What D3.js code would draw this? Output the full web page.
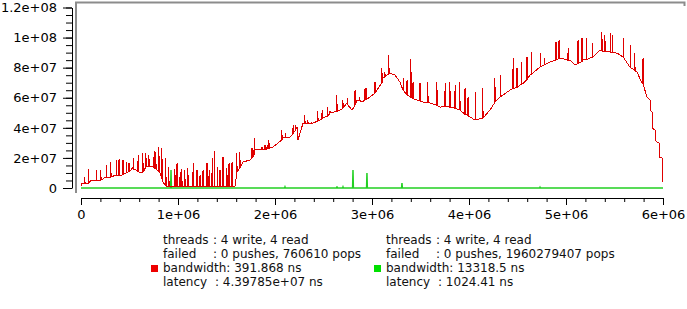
<!DOCTYPE html>
<html>
<head>
<meta charset="utf-8">
<script src="https://cdn.jsdelivr.net/npm/d3@7"></script>
<style>
html, body { margin: 0; padding: 0; background: #fff; }
svg { display: block; font-family: "DejaVu Sans", sans-serif; }
</style>
</head>
<body>
<script>
// x in thousands of items, y in millions

// red run: slow baseline
const redBase = [
  [0,1.3],[10,3.3],[52,3.3],[103,5.3],[155,4.7],[196,5.3],[258,7.3],[309,7.3],[361,8.6],[412,8.0],
  [464,10.0],[515,12.0],[536,14.0],[567,12.0],[619,10.0],[670,14.0],[722,14.6],[773,12.6],[814,10.0],
  [845,4.0],[876,1.3],[897,0.7],[1588,1.3],[1608,10.6],[1639,13.3],[1670,17.3],[1742,18.6],[1794,25.3],
  [1876,25.3],[1979,27.2],[2082,33.9],[2155,33.9],[2227,40.5],[2237,31.9],[2289,43.2],[2392,43.2],
  [2495,46.5],[2567,49.8],[2670,51.8],[2742,56.5],[2794,51.8],[2845,58.5],[2907,57.1],[2979,60.5],
  [3051,65.1],[3113,73.1],[3186,76.4],[3237,75.1],[3289,70.4],[3320,65.1],[3392,60.5],[3464,58.5],
  [3526,57.1],[3598,56.5],[3701,53.8],[3804,53.8],[3907,51.8],[3979,48.5],[4062,45.2],[4144,46.5],
  [4216,51.8],[4320,60.5],[4423,65.1],[4526,68.4],[4629,75.1],[4732,80.4],[4835,83.7],[4938,86.4],
  [5041,85.1],[5093,81.7],[5175,85.1],[5278,87.1],[5350,91.7],[5454,90.4],[5526,89.7],[5588,87.1],
  [5660,80.4],[5732,77.1],[5783,69.8],[5835,60.5],[5866,58.5],[5866,51.8],[5887,50.5],[5887,39.9],
  [5918,38.5],[5918,31.9],[5938,30.6],[5959,29.9],[5959,20.6],[5990,19.9],[5995,4.0]
]

// red run: spikes as [x, foot, top]
const redSpikes = [
  [41,3.3,7.3],[82,3.3,12.6],[155,4.7,12.0],[206,5.3,12.0],[258,7.3,15.3],[309,7.3,17.3],[361,8.6,18.6],
  [392,8.3,19.3],[433,9,18.6],[464,10.0,17.3],[495,11,16.6],[546,12.0,19.9],[588,11,21.9],[639,10.5,23.3],
  [670,14.0,23.3],[701,14.3,21.9],[753,13.5,24.6],[773,12.6,23.9],[804,11,27.2],[835,6,26.6],[876,1.3,19.9],
  [907,0.7,14.0],[969,0.7,12.6],[990,0.7,16.6],[1021,0.7,10.6],[1041,0.7,12.6],[1072,0.7,12.0],
  [1103,0.7,13.3],[1155,0.7,16.6],[1196,0.7,12.0],[1227,0.7,8.6],[1258,0.7,12.0],[1299,0.7,16.6],
  [1320,0.7,12.0],[1351,0.7,19.9],[1381,0.7,24.6],[1412,0.7,14.0],[1433,0.7,12.0],[1464,0.7,20.6],
  [1505,0.7,13.3],[1526,0.7,16.6],[1557,0.7,17.3],[1608,10.6,23.3],[1639,13.3,23.9],[1763,20,26.6],
  [1784,22,33.2],[1866,25.3,27.2],[1897,25.5,28.6],[1918,26,28.6],[1938,26.5,31.9],[2072,32,38.5],
  [2113,33.9,36.5],[2186,36,41.9],[2216,39,41.9],[2309,43.2,48.5],[2340,43.2,45.2],[2381,43.2,43.9],
  [2443,44.5,51.2],[2485,46,51.8],[2546,48,53.8],[2567,49.8,51.2],[2639,51,61.8],[2701,53,58.5],
  [2752,55,59.8],[2825,55,65.1],[2876,58,60.5],[2928,59,66.5],[2948,59,66.5],[3031,63,70.4],
  [3103,70,79.7],[3134,74,77.1],[3175,76,88.4],[3320,65.1,73.1],[3361,62,71.8],[3402,60,85.7],
  [3423,59.5,70.4],[3495,58,69.8],[3577,57,70.4],[3670,55,70.4],[3753,54,69.8],[3804,53.8,70.4],
  [3856,53,68.4],[3907,51.8,70.4],[3959,49,66.5],[3990,48,60.5],[4062,45.2,63.8],[4144,46.5,66.5],
  [4268,57,73.1],[4320,60.5,75.1],[4454,66,86.4],[4495,67,79.7],[4546,69,83.7],[4598,72,87.1],
  [4649,76,90.4],[4732,80.4,89.7],[4783,82,86.4],[4897,85,97.0],[4928,86,98.3],[5021,85,93.0],
  [5124,83,98.3],[5165,84,99.7],[5216,85.5,99.7],[5278,87.1,96.4],[5371,91,103.7],[5402,91,101.7],
  [5454,90.4,103.0],[5484,90,101.7],[5588,87.1,99.7],[5660,80.4,95.0],[5711,78,89.7],[5794,69,86.4]
]

// green run: flat at zero with a few spikes [x, top]
const greenSpikes = [[928,12.0],[2103,0.7],[2639,1.0],[2701,0.7],[2804,12.0],[2948,10.0],[3309,3.3],[4732,0.5]]

const xTicks = [0, 1e6, 2e6, 3e6, 4e6, 5e6, 6e6]
const yTicks = [0, 2e7, 4e7, 6e7, 8e7, 1e8, 1.2e8]

const legendRed = [
  ['threads', ': 4 write, 4 read'],
  ['failed', ': 0 pushes, 760610 pops'],
  ['bandwidth: 391.868 ns', ''],
  ['latency', ': 4.39785e+07 ns']
]
const legendGreen = [
  ['threads', ': 4 write, 4 read'],
  ['failed', ': 0 pushes, 1960279407 pops'],
  ['bandwidth: 13318.5 ns', ''],
  ['latency', ': 1024.41 ns']
]

let width = 687, height = 309

let x = d3.scaleLinear().domain([0, 6e6]).range([81, 663])
let y = d3.scaleLinear().domain([0, 1.2e8]).range([188, 7.5])

function sci(d) {
  if (d === 0) return '0'
  return d.toExponential().replace(/e([+-])(\d)$/, 'e$10$2')
}

const svg = d3.select('body').append('svg')
    .attr('width', width)
    .attr('height', height)

// frame
svg.append('path')
    .attr('d', 'M76,193V2.5H684.5V6')
    .attr('fill', 'none')
    .attr('stroke', '#8c8c8c')
    .attr('stroke-width', 2)

// build red points
let redPts = redBase.map(d => ({ x: d[0], y: d[1], o: 0 }))
for (let s of redSpikes) {
  redPts.push({ x: s[0] - 0.5, y: s[1], o: 1 })
  redPts.push({ x: s[0], y: s[2], o: 2 })
  redPts.push({ x: s[0] + 0.5, y: s[1], o: 3 })
}
redPts.sort((a, b) => a.x - b.x || a.o - b.o)

let greenPts = [{ x: 0, y: 0 }]
for (let s of greenSpikes) {
  greenPts.push({ x: s[0] - 4, y: 0 })
  greenPts.push({ x: s[0], y: s[1] })
  greenPts.push({ x: s[0] + 4, y: 0 })
}
greenPts.push({ x: 6000, y: 0 })

let line = d3.line()
    .x(d => x(d.x * 1e3))
    .y(d => y(d.y * 1e6))

svg.append('path')
    .datum(greenPts)
    .attr('d', line)
    .attr('fill', 'none')
    .attr('stroke', '#22d022')
    .attr('stroke-width', 1.5)

svg.append('path')
    .datum(redPts)
    .attr('d', line)
    .attr('fill', 'none')
    .attr('stroke', '#e00000')
    .attr('stroke-width', 1)
    .attr('stroke-linejoin', 'bevel')
    .attr('shape-rendering', 'crispEdges')

// y axis
svg.append('g')
    .attr('transform', 'translate(72,0)')
    .call(d3.axisLeft(y).tickValues(d3.range(0, 1.2e8 + 1, 5e6)).tickSize(6).tickSizeOuter(0).tickFormat(''))
svg.append('g')
    .attr('transform', 'translate(72,0)')
    .call(d3.axisLeft(y).tickValues(yTicks).tickSize(9).tickSizeOuter(0).tickPadding(6).tickFormat(sci))
    .call(g => g.select('.domain').remove())
    .attr('font-size', 13)
    .attr('font-family', 'DejaVu Sans')

// x axis
svg.append('g')
    .attr('transform', 'translate(0,198)')
    .call(d3.axisBottom(x).tickValues(d3.range(0, 6e6 + 1, 2e5)).tickSize(4).tickSizeOuter(0).tickFormat(''))
svg.append('g')
    .attr('transform', 'translate(0,198)')
    .call(d3.axisBottom(x).tickValues(xTicks).tickSize(7).tickSizeOuter(0).tickPadding(5).tickFormat(sci))
    .call(g => g.select('.domain').remove())
    .attr('font-size', 13)
    .attr('font-family', 'DejaVu Sans')

// legend
function legend(x0, rows, color) {
  svg.append('rect')
      .attr('x', x0 - 12).attr('y', 265)
      .attr('width', 7).attr('height', 7)
      .attr('fill', color)
  rows.forEach((r, i) => {
    let t = svg.append('text')
        .attr('x', x0)
        .attr('y', 244 + i * 14)
        .attr('font-size', 12)
        .attr('fill', '#111')
    t.append('tspan').text(r[0])
    if (r[1]) t.append('tspan').attr('x', x0 + (i == 3 ? 52 : 50)).text(r[1])
  })
}
legend(163, legendRed, '#ee0000')
legend(386, legendGreen, '#00e000')
</script>
</body>
</html>
